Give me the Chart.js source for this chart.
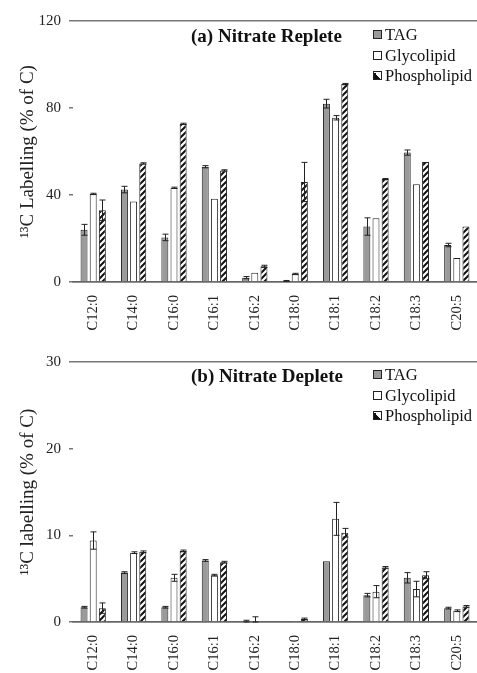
<!DOCTYPE html>
<html lang="en">
<head>
  <meta charset="UTF-8">
  <title>13C labelling of fatty acids</title>
  <script src="https://cdn.jsdelivr.net/npm/chart.js"></script>
  <style>
    html, body { margin: 0; padding: 0; overflow: hidden; background: #fff; font-family: 'Liberation Serif', serif; }
    canvas { display: block; }
    .panel { position: relative; width: 477px; }
    .panel-title {
      position: absolute; font-weight: bold; font-size: 19px; color: #111;
      white-space: nowrap;
    }
    .legend { position: absolute; font-size: 16.5px; color: #111; }
    .legend div { height: 20.5px; line-height: 20.5px; white-space: nowrap; }
    .sw {
      display: inline-block; width: 7px; height: 7px; border: 1px solid #222;
      margin-right: 3px; vertical-align: 1px;
    }
    .sw.tag { background: #9a9a9a; }
    .sw.gly { background: #fff; }
    .sw.pho { background: linear-gradient(45deg, #111 50%, #fff 50%); }
  </style>
</head>
<body>

  <div class="panel" style="height:336px">
    <canvas id="chartA" width="477" height="336"></canvas>
    <div class="panel-title" style="left:191px; top:25px">(a) Nitrate Replete</div>
    <div class="legend" style="left:373px; top:25px">
      <div><span class="sw tag"></span>TAG</div>
      <div><span class="sw gly"></span>Glycolipid</div>
      <div><span class="sw pho"></span>Phospholipid</div>
    </div>
  </div>

  <div class="panel" style="height:337px">
    <canvas id="chartB" width="477" height="337"></canvas>
    <div class="panel-title" style="left:191px; top:29px">(b) Nitrate Deplete</div>
    <div class="legend" style="left:373px; top:29px">
      <div><span class="sw tag"></span>TAG</div>
      <div><span class="sw gly"></span>Glycolipid</div>
      <div><span class="sw pho"></span>Phospholipid</div>
    </div>
  </div>

<script>
  // fatty acids on the x axis
  const fattyAcids = ['C12:0', 'C14:0', 'C16:0', 'C16:1', 'C16:2', 'C18:0', 'C18:1', 'C18:2', 'C18:3', 'C20:5'];

  // (a) nitrate replete, % of C
  const repleteTAG     = [24, 42.5, 20.5, 53, 2, 0.5, 82, 25.5, 59.5, 17];
  const repleteGlyco   = [40.5, 37, 43.3, 38.3, 4.3, 3.7, 75.5, 29.3, 45, 11];
  const repletePhospho = [33, 54.5, 72.7, 51.3, 7.2, 46, 91, 47.3, 55.2, 25.5];
  const repleteTAGErr     = [2.5, 1.5, 1.5, 0.5, 0.5, 0.2, 2, 4, 1.2, 0.8];
  const repleteGlycoErr   = [0.3, 0, 0.3, 0, 0, 0.3, 1, 0, 0, 0];
  const repletePhosphoErr = [4.7, 0.3, 0.3, 0.3, 0.5, 9, 0.3, 0.3, 0, 0];
  const repleteTicks = [0, 40, 80, 120];

  // (b) nitrate deplete, % of C
  const depleteTAG     = [1.7, 5.7, 1.7, 7.1, 0.1, 0.05, 7.0, 3.1, 5.1, 1.6];
  const depleteGlyco   = [9.4, 8.0, 5.1, 5.4, 0.1, 0.05, 11.9, 3.5, 3.8, 1.3];
  const depletePhospho = [1.6, 8.1, 8.2, 6.9, 0.1, 0.35, 10.3, 6.3, 5.4, 1.8];
  const depleteTAGErr     = [0.1, 0.1, 0.1, 0.1, 0.1, 0, 0, 0.2, 0.6, 0.1];
  const depleteGlycoErr   = [1.0, 0.1, 0.4, 0.1, 0.5, 0, 1.9, 0.7, 0.9, 0.1];
  const depletePhosphoErr = [0.6, 0.1, 0.1, 0.1, 0, 0.1, 0.5, 0.1, 0.4, 0.1];
  const depleteTicks = [0, 10, 20, 30];

  // diagonal hatch for phospholipid bars
  function makeHatch() {
    const c = document.createElement('canvas');
    c.width = 6; c.height = 6;
    const g = c.getContext('2d');
    g.fillStyle = '#fff';
    g.fillRect(0, 0, 6, 6);
    g.strokeStyle = '#111';
    g.lineWidth = 2;
    g.beginPath();
    g.moveTo(-1, 7); g.lineTo(7, -1);
    g.moveTo(-4, 4); g.lineTo(4, -4);
    g.moveTo(2, 10); g.lineTo(10, 2);
    g.stroke();
    return g.createPattern(c, 'repeat');
  }
  const hatch = makeHatch();

  // error bars (plus and minus) on top of each bar
  const errorBars = {
    id: 'errorBars',
    afterDatasetsDraw(chart) {
      const ctx = chart.ctx;
      const y = chart.scales.y;
      ctx.save();
      ctx.strokeStyle = '#222';
      ctx.lineWidth = 1;
      chart.data.datasets.forEach((ds, di) => {
        const meta = chart.getDatasetMeta(di);
        meta.data.forEach((bar, i) => {
          const e = ds.errors[i];
          if (!e) return;
          const v = ds.data[i];
          const yTop = y.getPixelForValue(v + e);
          const yBot = y.getPixelForValue(Math.max(v - e, 0));
          const x = Math.round(bar.x) + 0.5;
          ctx.beginPath();
          ctx.moveTo(x, yTop); ctx.lineTo(x, yBot);
          ctx.moveTo(x - 3, yTop); ctx.lineTo(x + 3, yTop);
          ctx.moveTo(x - 3, yBot); ctx.lineTo(x + 3, yBot);
          ctx.stroke();
        });
      });
      ctx.restore();
    }
  };

  function buildChart(id, tag, gly, pho, tagErr, glyErr, phoErr, ticks, yTitle, padTop, xHeight) {
    const maxV = ticks[ticks.length - 1];
    const bar = { borderColor: '#222', borderWidth: 1, categoryPercentage: 0.68, barPercentage: 0.76 };
    return new Chart(document.getElementById(id), {
      type: 'bar',
      data: {
        labels: fattyAcids,
        datasets: [
          Object.assign({ label: 'TAG', data: tag, errors: tagErr, backgroundColor: '#9a9a9a' }, bar),
          Object.assign({ label: 'Glycolipid', data: gly, errors: glyErr, backgroundColor: '#ffffff' }, bar),
          Object.assign({ label: 'Phospholipid', data: pho, errors: phoErr, backgroundColor: hatch }, bar)
        ]
      },
      options: {
        responsive: false,
        animation: false,
        layout: { padding: { top: padTop, right: 0, left: 0, bottom: 0 } },
        plugins: { legend: { display: false }, tooltip: { enabled: false } },
        scales: {
          x: {
            grid: { display: false },
            border: { color: '#666', width: 1.5 },
            ticks: {
              minRotation: 90, maxRotation: 90, padding: 5,
              color: '#222', font: { family: 'Liberation Serif', size: 14.5 }
            },
            afterFit(s) { s.height = xHeight; s.paddingLeft = 0; s.paddingRight = 0; }
          },
          y: {
            min: 0, max: maxV,
            afterBuildTicks(s) { s.ticks = ticks.map(v => ({ value: v })); },
            border: { display: false },
            grid: {
              color: c => (c.tick && (c.tick.value === maxV || c.tick.value === 0)) ? '#777' : 'transparent',
              tickColor: '#777', tickLength: 4, lineWidth: 1.5
            },
            ticks: { padding: 8, color: '#222', font: { family: 'Liberation Serif', size: 15 } },
            title: {
              display: true, text: yTitle, color: '#222',
              font: { family: 'Liberation Serif', size: 19 },
              padding: { top: 17, bottom: 0 }
            },
            afterFit(s) { s.width = 73; }
          }
        }
      },
      plugins: [errorBars]
    });
  }

  buildChart('chartA', repleteTAG, repleteGlyco, repletePhospho,
    repleteTAGErr, repleteGlycoErr, repletePhosphoErr, repleteTicks,
    '\u00B9\u00B3C Labelling (% of C)', 21, 54);

  buildChart('chartB', depleteTAG, depleteGlyco, depletePhospho,
    depleteTAGErr, depleteGlycoErr, depletePhosphoErr, depleteTicks,
    '\u00B9\u00B3C labelling (% of C)', 26, 51);
</script>
</body>
</html>
